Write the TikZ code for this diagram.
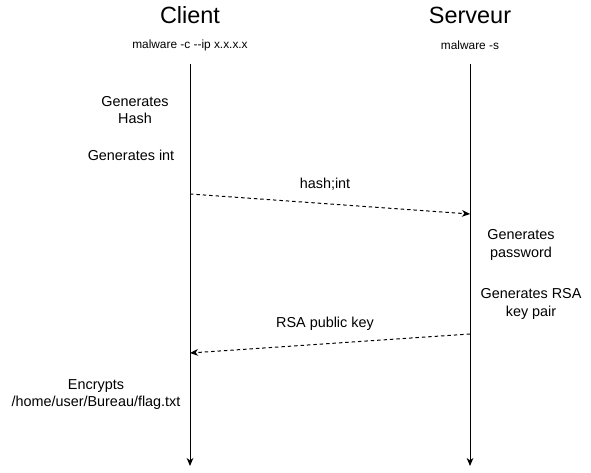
\documentclass[tikz,border=0pt]{standalone}
\usepackage{fontspec}
\setmainfont{Liberation Sans}
\usetikzlibrary{arrows.meta}
\begin{document}
\begin{tikzpicture}[x=0.75pt,y=-0.75pt,>={Stealth[length=6pt,width=5pt,inset=1.8pt]}]

  \tikzset{title/.style={font=\fontsize{17.6}{21}\selectfont},
           cmd/.style={font=\fontsize{8.9}{10}\selectfont},
           action/.style={font=\fontsize{10.8}{12.8}\selectfont,align=center},
           msg/.style={->,draw,line width=0.75pt,dash pattern=on 2.6pt off 2.2pt}}
  \useasboundingbox (0,0) rectangle (591,473);

  \node[title] (client) at (190,15) {Client};
  \node[title] (serveur) at (470,15) {Serveur};
  \node[cmd] (ccmd) at (190,45) {malware -c -{}-ip x.x.x.x};
  \node[cmd] (scmd) at (470,45) {malware -s};

  \coordinate (ctop) at (190,64);
  \coordinate (cbot) at (190,466);
  \coordinate (stop) at (470,64);
  \coordinate (sbot) at (470,466);
  \draw[->,line width=0.75pt] (ctop) -- (cbot);
  \draw[->,line width=0.75pt] (stop) -- (sbot);

  \node[action] (hash) at (135,110) {Generates\\Hash};
  \node[action] (int) at (131,155) {Generates int};
  \node[action] (pwd) at (521,245) {Generates\\password};
  \node[action] (rsa) at (531,304) {Generates RSA\\key pair};
  \node[action] (enc) at (96,395) {Encrypts\\/home/user/Bureau/flag.txt};

  \coordinate (m1a) at (190,194);
  \coordinate (m1b) at (470,214);
  \coordinate (m2a) at (470,334);
  \coordinate (m2b) at (190,353);
  \path[msg] (m1a) -- (m1b);
  \node[action] (m1) at (325,184) {hash;int};
  \path[msg] (m2a) -- (m2b);
  \node[action] (m2) at (325,324) {RSA public key};
\end{tikzpicture}
\end{document}
